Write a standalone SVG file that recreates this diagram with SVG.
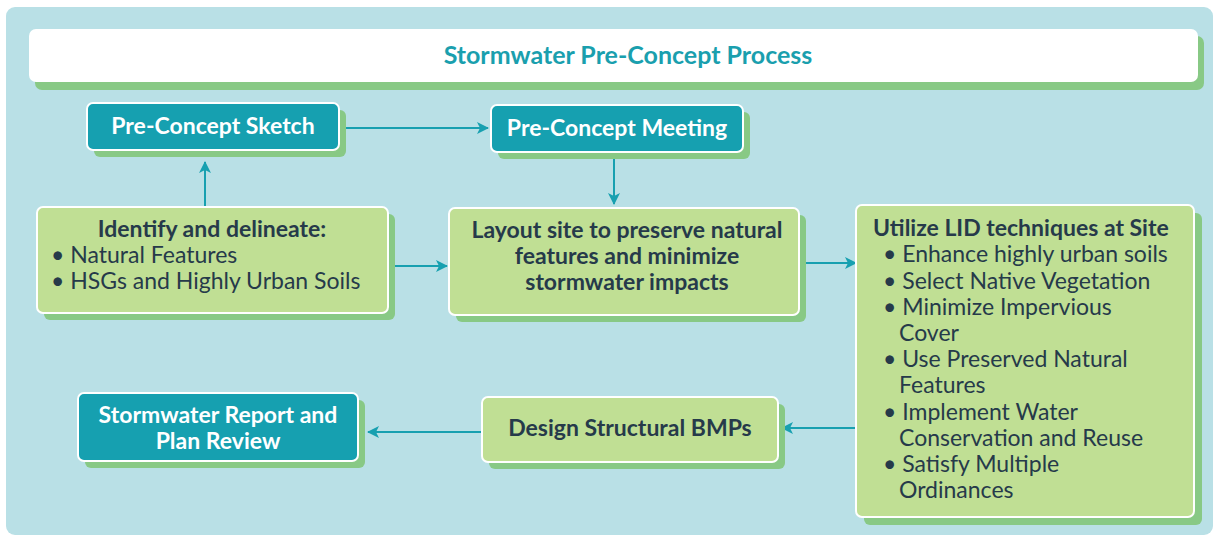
<svg xmlns="http://www.w3.org/2000/svg" width="1215" height="537" viewBox="0 0 1215 537">
<defs>
<style>
.shadow{fill:#88c985}
.teal{fill:#16a0b0;stroke:#ffffff;stroke-width:2}
.green{fill:#c0df94;stroke:#ffffff;stroke-width:2}
.tw{font-family:Lato,"Open Sans",sans-serif;font-weight:bold;font-size:23px;fill:#ffffff;text-anchor:middle}
.tb{font-family:Lato,"Open Sans",sans-serif;font-weight:bold;font-size:23px;fill:#263a4a}
.tr{font-family:Lato,"Open Sans",sans-serif;font-size:23px;fill:#263a4a}
.conn{stroke:#17a0b0;stroke-width:2;fill:none}
</style>
<marker id="arr" viewBox="0 0 12 12" refX="11" refY="6" markerWidth="12" markerHeight="12" markerUnits="userSpaceOnUse" orient="auto">
<path d="M0,0 L12,6 L0,12 L3,6 Z" fill="#17a0b0"/>
</marker>
</defs>
<rect x="0" y="0" width="1215" height="537" fill="#ffffff"/>
<rect id="panel" x="6" y="7" width="1207" height="528" rx="9" fill="#b9e0e6"/>

<g id="title">
<rect class="shadow" x="35" y="36" width="1169" height="54" rx="7"/>
<rect x="29" y="29" width="1169" height="53" rx="7" fill="#ffffff"/>
<text x="628" y="64" font-family="Lato,'Open Sans',sans-serif" font-weight="bold" font-size="25" fill="#1a9fae" text-anchor="middle">Stormwater Pre-Concept Process</text>
</g>

<g id="connectors">
<line class="conn" x1="340" y1="128" x2="488" y2="128" marker-end="url(#arr)"/>
<line class="conn" x1="614" y1="152" x2="614" y2="204" marker-end="url(#arr)"/>
<line class="conn" x1="205" y1="207" x2="205" y2="162" marker-end="url(#arr)"/>
<line class="conn" x1="390" y1="266" x2="447" y2="266" marker-end="url(#arr)"/>
<line class="conn" x1="800" y1="263" x2="856" y2="263" marker-end="url(#arr)"/>
<line class="conn" x1="856" y1="428" x2="782" y2="428" marker-end="url(#arr)"/>
<line class="conn" x1="482" y1="432" x2="368" y2="432" marker-end="url(#arr)"/>
</g>

<g id="sketch">
<rect class="shadow" x="94" y="110" width="252" height="47" rx="6"/>
<rect class="teal" x="87" y="103" width="252" height="47" rx="6"/>
<text class="tw" x="213" y="134">Pre-Concept Sketch</text>
</g>

<g id="meeting">
<rect class="shadow" x="498" y="112" width="252" height="47" rx="6"/>
<rect class="teal" x="491" y="105" width="252" height="47" rx="6"/>
<text class="tw" x="617" y="136">Pre-Concept Meeting</text>
</g>

<g id="identify">
<rect class="shadow" x="44" y="214" width="351" height="106" rx="6"/>
<rect class="green" x="37" y="207" width="351" height="106" rx="6"/>
<text class="tb" x="212" y="237" text-anchor="middle">Identify and delineate:</text>
<text class="tr" x="51" y="263">• Natural Features</text>
<text class="tr" x="51" y="289">• HSGs and Highly Urban Soils</text>
</g>

<g id="layout">
<rect class="shadow" x="456" y="215" width="350" height="107" rx="6"/>
<rect class="green" x="449" y="208" width="350" height="107" rx="6"/>
<text class="tb" x="627" y="238" text-anchor="middle">Layout site to preserve natural</text>
<text class="tb" x="627" y="264" text-anchor="middle">features and minimize</text>
<text class="tb" x="627" y="290" text-anchor="middle">stormwater impacts</text>
</g>

<g id="lid">
<rect class="shadow" x="864" y="213" width="338" height="312" rx="6"/>
<rect class="green" x="856" y="205" width="338" height="312" rx="6"/>
<text class="tb" x="873" y="236">Utilize LID techniques at Site</text>
<text class="tr" x="883" y="262">• Enhance highly urban soils</text>
<text class="tr" x="883" y="289">• Select Native Vegetation</text>
<text class="tr" x="883" y="315">• Minimize Impervious</text>
<text class="tr" x="899" y="341">Cover</text>
<text class="tr" x="883" y="367">• Use Preserved Natural</text>
<text class="tr" x="899" y="393">Features</text>
<text class="tr" x="883" y="420">• Implement Water</text>
<text class="tr" x="899" y="446">Conservation and Reuse</text>
<text class="tr" x="883" y="472">• Satisfy Multiple</text>
<text class="tr" x="899" y="498">Ordinances</text>
</g>

<g id="design">
<rect class="shadow" x="489" y="404" width="296" height="65" rx="6"/>
<rect class="green" x="482" y="397" width="296" height="65" rx="6"/>
<text class="tb" x="630" y="436" text-anchor="middle">Design Structural BMPs</text>
</g>

<g id="report">
<rect class="shadow" x="85" y="400" width="280" height="68" rx="6"/>
<rect class="teal" x="78" y="393" width="280" height="68" rx="6"/>
<text class="tw" x="218" y="423">Stormwater Report and</text>
<text class="tw" x="218" y="449">Plan Review</text>
</g>
</svg>
